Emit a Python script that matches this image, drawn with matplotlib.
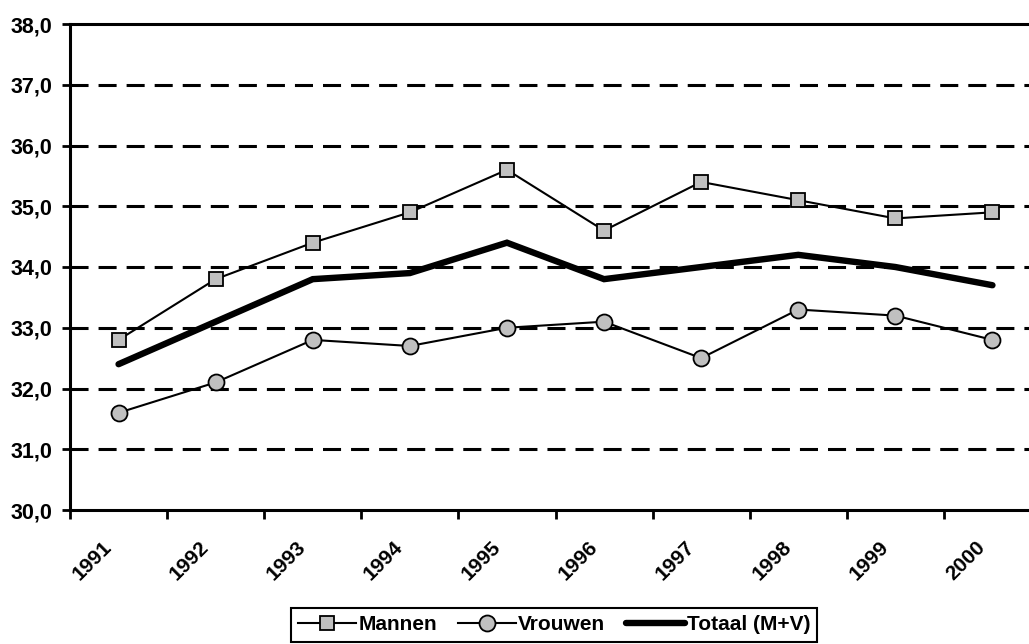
import matplotlib
matplotlib.use("Agg")
import matplotlib.pyplot as plt
import matplotlib.transforms as mtransforms

# Data
years = ['1991', '1992', '1993', '1994', '1995', '1996', '1997', '1998', '1999', '2000']
mannen = [32.8, 33.8, 34.4, 34.9, 35.6, 34.6, 35.4, 35.1, 34.8, 34.9]
vrouwen = [31.6, 32.1, 32.8, 32.7, 33.0, 33.1, 32.5, 33.3, 33.2, 32.8]
totaal = [32.4, 33.1, 33.8, 33.9, 34.4, 33.8, 34.0, 34.2, 34.0, 33.7]
y_ticks = [30, 31, 32, 33, 34, 35, 36, 37, 38]

plt.rcParams['font.family'] = ['Liberation Sans', 'DejaVu Sans']
plt.rcParams['font.weight'] = 'bold'
plt.rcParams['lines.scale_dashes'] = False

W, H = 1029, 644
fig = plt.figure(figsize=(W / 100, H / 100), dpi=100)

# plot area runs past the right edge of the picture, like the original
left, right, top, bottom = 70, 1041, 24, 510
ax = fig.add_axes([left / W, 1 - bottom / H, (right - left) / W, (bottom - top) / H])

x = list(range(len(years)))

# dashed gridlines
for v in y_ticks[1:-1]:
    ax.axhline(v, color='black', lw=2.2, dashes=(13, 7.2), zorder=1)

ax.plot(x, totaal, color='black', lw=4.6, solid_capstyle='round',
        solid_joinstyle='miter', label='Totaal (M+V)', zorder=3)
ax.plot(x, mannen, color='black', lw=1.5, marker='s', ms=9.5,
        mfc='#c0c0c0', mec='black', mew=1.3, label='Mannen', zorder=4)
ax.plot(x, vrouwen, color='black', lw=1.5, marker='o', ms=11.5,
        mfc='#c0c0c0', mec='black', mew=1.3, label='Vrouwen', zorder=4)

ax.set_xlim(-0.5, len(years) - 0.5)
ax.set_ylim(30, 38)

ax.set_yticks(y_ticks)
ax.set_yticklabels([f'{v:.1f}'.replace('.', ',') for v in y_ticks], fontsize=15.5, fontweight='bold')
ax.tick_params(axis='y', direction='out', length=5.8, width=2, pad=7)

# category boundaries as major ticks, labels on the centres
ax.set_xticks([i - 0.5 for i in range(len(years) + 1)])
ax.set_xticklabels([])
ax.set_xticks(x, minor=True)
ax.set_xticklabels(years, minor=True, rotation=45, ha='right', va='top',
                   fontsize=15, fontweight='bold')
ax.tick_params(axis='x', which='major', direction='out', length=6.5, width=2)
ax.tick_params(axis='x', which='minor', length=0, pad=20)
shift = mtransforms.ScaledTranslation(-3 / 100, 0, fig.dpi_scale_trans)
for lab in ax.get_xticklabels(minor=True):
    lab.set_transform(lab.get_transform() + shift)

for side in ['left', 'bottom', 'top']:
    ax.spines[side].set_linewidth(2.2)
    ax.spines[side].set_color('black')
ax.spines['right'].set_visible(False)

handles, labels = ax.get_legend_handles_labels()
order = [1, 2, 0]
leg = fig.legend([handles[i] for i in order], [labels[i] for i in order],
                 loc='upper center', bbox_to_anchor=(554 / W, 1 - 608 / H),
                 ncol=3, frameon=True, fancybox=False, edgecolor='black',
                 framealpha=1, fontsize=15, handlelength=2.8, handletextpad=0.1,
                 columnspacing=1.0, borderpad=0.35, borderaxespad=0)
leg.get_frame().set_linewidth(1.5)
for t in leg.get_texts():
    t.set_fontweight('bold')

fig.savefig('out.png', dpi=100)
